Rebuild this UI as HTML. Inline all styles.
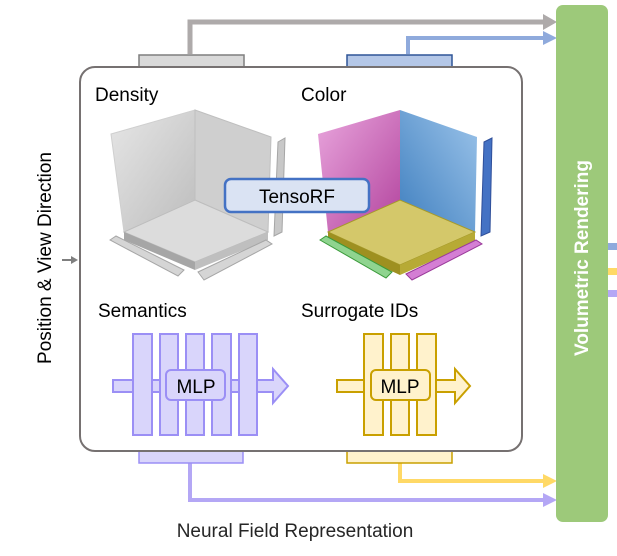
<!DOCTYPE html>
<html><head><meta charset="utf-8"><style>
body{margin:0;background:#fff;}
svg{display:block;font-family:"Liberation Sans",Calibri,sans-serif;}
</style></head><body>
<svg width="617" height="556" viewBox="0 0 617 556" xmlns="http://www.w3.org/2000/svg">
<defs>
<linearGradient id="gw" x1="0" y1="0" x2="1" y2="1"><stop offset="0" stop-color="#e6e6e6"/><stop offset="1" stop-color="#bdbdbd"/></linearGradient>
<linearGradient id="gm" x1="0" y1="0" x2="1" y2="1"><stop offset="0" stop-color="#e9a6dd"/><stop offset="1" stop-color="#b3449e"/></linearGradient>
<linearGradient id="gb" x1="1" y1="0" x2="0" y2="1"><stop offset="0" stop-color="#9cc4ea"/><stop offset="1" stop-color="#3f7fbf"/></linearGradient>
</defs>
<polyline points="190,54 190,22 545,22" fill="none" stroke="#aeaaaa" stroke-width="5"/>
<polygon points="543,14 557,22 543,30" fill="#aeaaaa"/>
<polyline points="408,54 408,38 545,38" fill="none" stroke="#8faadc" stroke-width="4"/>
<polygon points="543,31 557,38 543,45" fill="#8faadc"/>
<rect x="139" y="55" width="105" height="12" fill="#d9d9d9" stroke="#7f7f7f" stroke-width="1.5"/>
<rect x="347" y="55" width="105" height="12" fill="#b4c7e7" stroke="#2f5597" stroke-width="1.5"/>
<polyline points="400,463 400,481 545,481" fill="none" stroke="#ffd966" stroke-width="4"/>
<polygon points="543,474 557,481 543,488" fill="#ffd966"/>
<polyline points="190,463 190,500 545,500" fill="none" stroke="#b4a7f5" stroke-width="4"/>
<polygon points="543,493 557,500 543,507" fill="#b4a7f5"/>
<rect x="139" y="451" width="104" height="12" fill="#d9d5fb" stroke="#9b8ff5" stroke-width="1.5"/>
<rect x="347" y="451" width="105" height="12" fill="#fff2cc" stroke="#c9a000" stroke-width="1.5"/>
<rect x="80" y="67" width="442" height="384" rx="15" fill="#fff" stroke="#767171" stroke-width="2"/>
<rect x="556" y="5" width="52" height="517" rx="7" fill="#9dc97a"/>
<text transform="translate(588,258) rotate(-90)" text-anchor="middle" font-size="19" font-weight="bold" fill="#fff">Volumetric Rendering</text>
<rect x="608" y="243" width="9" height="7" fill="#8faadc"/>
<rect x="608" y="268" width="9" height="7" fill="#ffd966"/>
<rect x="608" y="290" width="9" height="7" fill="#b4a7f5"/>
<text transform="translate(51,258) rotate(-90)" text-anchor="middle" font-size="19" fill="#000">Position &amp; View Direction</text>
<line x1="62" y1="260" x2="72" y2="260" stroke="#7f7f7f" stroke-width="2"/>
<polygon points="71,256 78,260 71,264" fill="#7f7f7f"/>
<text x="95" y="101" font-size="19">Density</text>
<text x="301" y="101" font-size="19">Color</text>
<text x="98" y="317" font-size="19">Semantics</text>
<text x="301" y="317" font-size="19">Surrogate IDs</text>
<polygon points="111,134 195,110 195,200 124,232" fill="url(#gw)" stroke="#cfcfcf"/>
<polygon points="195,110 271,137 268,232 195,200" fill="#cfcfcf" stroke="#bfbfbf"/>
<polygon points="124,232 195,200 268,232 195,262" fill="#dcdcdc" stroke="#bdbdbd"/>
<polygon points="124,232 195,262 195,270 124,240" fill="#a6a6a6"/>
<polygon points="195,262 268,232 268,240 195,270" fill="#bfbfbf"/>
<polygon points="278,142 285,138 282,232 274,236" fill="#c8c8c8" stroke="#a6a6a6"/>
<polygon points="110,240 116,236 184,270 178,276" fill="#d5d5d5" stroke="#a6a6a6"/>
<polygon points="198,272 266,240 272,244 204,280" fill="#d5d5d5" stroke="#a6a6a6"/>
<polygon points="318,134 400,110 400,200 328,232" fill="url(#gm)"/>
<polygon points="400,110 477,137 475,232 400,200" fill="url(#gb)"/>
<polygon points="328,232 400,200 475,232 400,265" fill="#d4c86a" stroke="#a69a2a"/>
<polygon points="328,232 400,265 400,275 328,242" fill="#9e9020"/>
<polygon points="400,265 475,232 475,242 400,275" fill="#b7aa35"/>
<polygon points="484,142 492,138 490,232 481,236" fill="#4472c4" stroke="#2f4f9a"/>
<polygon points="320,240 326,236 392,272 386,278" fill="#8fd48f" stroke="#3a9a3a"/>
<polygon points="406,274 476,240 482,244 412,280" fill="#d47ed4" stroke="#9a3a9a"/>
<rect x="225" y="179" width="144" height="33" rx="6" fill="#dae3f3" stroke="#4472c4" stroke-width="2.5"/>
<text x="297" y="203" text-anchor="middle" font-size="19">TensoRF</text>
<g fill="#d9d5fb" stroke="#9b8ff5" stroke-width="2">
<path d="M113,380 H273 V369 L288,386 L273,403 V392 H113 Z"/>
<rect x="133" y="334" width="19" height="101"/>
<rect x="160" y="334" width="18" height="101"/>
<rect x="186" y="334" width="18" height="101"/>
<rect x="212" y="334" width="19" height="101"/>
<rect x="239" y="334" width="18" height="101"/>
<rect x="166" y="370" width="59" height="30" rx="5"/>
</g>
<text x="196" y="393" text-anchor="middle" font-size="19">MLP</text>
<g fill="#fff2cc" stroke="#c9a000" stroke-width="2">
<path d="M337,380 H455 V369 L470,386 L455,403 V392 H337 Z"/>
<rect x="364" y="334" width="19" height="101"/>
<rect x="391" y="334" width="18" height="101"/>
<rect x="417" y="334" width="19" height="101"/>
<rect x="371" y="370" width="59" height="30" rx="5"/>
</g>
<text x="400" y="393" text-anchor="middle" font-size="19">MLP</text>
<text x="295" y="537" text-anchor="middle" font-size="19" fill="#262626">Neural Field Representation</text>
</svg>
</body></html>
